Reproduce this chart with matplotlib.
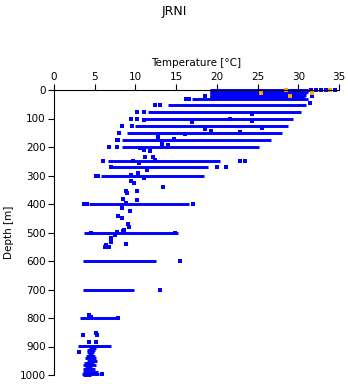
import matplotlib
matplotlib.use('Agg')
import matplotlib.pyplot as plt

# horizontal bands of samples: depth [m], min temp, max temp
band_depth = [0, 4, 8, 12, 16, 20, 24, 28, 32, 51, 78, 102, 126, 152, 177, 201,
              250, 271, 303, 401, 503, 601, 700, 801, 898,
              905, 912, 920, 928, 935, 942, 950, 958, 965, 972, 980, 988, 995, 1000]
band_tmin = [19.2, 19.2, 19.2, 19.2, 19.2, 19.2, 19.2, 19.2, 16.9, 14.0, 11.6, 10.9, 10.0, 9.0, 8.4, 8.4,
             6.6, 7.0, 5.8, 4.3, 3.7, 3.6, 3.6, 3.2, 3.0,
             4.3, 4.1, 4.0, 4.2, 3.9, 3.8, 4.0, 3.7, 3.6, 3.8, 3.6, 3.5, 3.4, 3.6]
band_tmax = [31.2, 31.2, 31.2, 31.0, 31.0, 30.8, 30.6, 30.2, 31.2, 31.0, 30.3, 29.4, 28.7, 28.0, 26.7, 25.2,
             20.4, 18.9, 18.4, 16.6, 15.2, 12.5, 9.8, 7.7, 7.0,
             5.2, 5.0, 4.9, 4.8, 5.0, 5.1, 5.3, 4.9, 5.2, 4.7, 5.0, 5.4, 5.5, 4.6]

# individual scattered samples
pt_temp = [31.6, 32.2, 32.8, 33.4, 34.5, 31.7, 31.7, 16.2, 16.6, 18.6, 12.4, 13.0, 31.4,
           11.0, 10.2, 9.4, 8.4, 7.7, 7.7, 6.0, 23.5, 22.8, 7.0, 21.1, 20.0, 5.2, 3.7, 17.1,
           24.3, 16.9, 21.6, 24.3, 18.6, 19.3, 22.9, 25.5, 12.8, 14.7, 16.1, 13.3, 14.0,
           10.6, 11.8, 11.1, 11.2, 12.2, 12.4, 9.7, 10.4, 11.4, 10.3, 9.5, 11.0, 9.5, 9.8,
           13.4, 8.8, 9.0, 10.2, 8.5, 10.2, 8.9, 8.3, 9.3, 7.9, 8.3, 9.1, 9.2, 8.6,
           7.7, 8.5, 7.5, 7.0, 7.0, 6.4, 6.7, 6.3, 8.9, 14.9, 15.5, 13.0, 11.0,
           4.3, 5.2, 5.3, 3.5, 4.3, 5.2, 3.1, 5.9, 7.8, 4.6,
           10.2, 9.6, 8.0, 7.8, 6.8, 5.4, 4.1, 4.6]
pt_depth = [0, 0, 0, 0, 0, 12, 22, 30, 30, 20, 51, 51, 46,
            78, 78, 102, 126, 177, 201, 250, 250, 250, 271, 271, 271, 303, 401, 401,
            84, 113, 103, 108, 137, 143, 146, 134, 164, 173, 156, 190, 192,
            205, 213, 211, 236, 236, 246, 248, 257, 281, 290, 298, 310, 318, 325,
            341, 354, 363, 353, 384, 386, 395, 413, 425, 442, 448, 471, 481, 491,
            497, 494, 509, 521, 532, 544, 552, 552, 541, 503, 601, 700, 104,
            789, 851, 860, 860, 883, 883, 920, 997, 801, 796,
            102, 126, 152, 177, 201, 303, 401, 503]

# warm outliers (orange)
hot_temp = [25.4, 28.5, 29.0, 31.7, 33.9]
hot_depth = [12, 0, 22, 12, 1]

fig = plt.figure(figsize=(3.48, 3.84), dpi=100)
ax = fig.add_axes([54 / 348, 1 - 375 / 384, 285 / 348, 285 / 384])

ax.hlines(band_depth, band_tmin, band_tmax, colors='#0000ff', linewidth=2.1, clip_on=False)
ax.plot(pt_temp, pt_depth, 's', color='#0000ff', markersize=2.4, markeredgewidth=0, clip_on=False)
ax.plot(hot_temp, hot_depth, 's', color='#ffa500', markersize=2.4, markeredgewidth=0, clip_on=False)

ax.set_xlim(0, 35)
ax.set_ylim(1000, 0)
ax.xaxis.tick_top()
ax.xaxis.set_label_position('top')
ax.set_xticks(range(0, 36, 5))
ax.set_yticks(range(0, 1001, 100))
ax.tick_params(direction='out', length=4, width=0.8, labelsize=7.5, pad=2)
for s in ['right', 'bottom']:
    ax.spines[s].set_visible(False)
ax.set_xlabel('Temperature [°C]', fontsize=7.5, labelpad=4)
ax.set_ylabel('Depth [m]', fontsize=7.5, labelpad=4)
fig.text(0.5, 1 - 12 / 384, 'JRNI', ha='center', va='center', fontsize=9)

fig.savefig('out.png', dpi=100)
